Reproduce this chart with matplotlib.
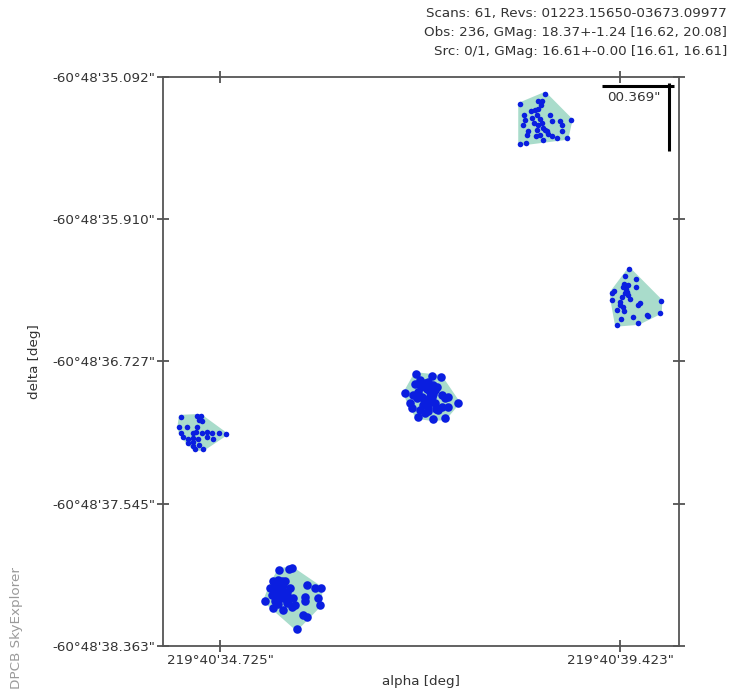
import numpy as np
import matplotlib
matplotlib.use("Agg")
import matplotlib.pyplot as plt
from matplotlib.patches import Polygon
from matplotlib.ticker import FixedLocator, FuncFormatter

# ---------------- data ----------------
# axis ticks: alpha = 219°40'xx.xxx", delta = -60°48'yy.yyy"
alpha_ticks = [34.725, 39.423]
delta_ticks = [35.092, 35.910, 36.727, 37.545, 38.363]
alpha_lim = [34.056, 40.116]
delta_lim = [35.092, 38.363]
dec_deg = -60.8136

header = ["Scans: 61, Revs: 01223.15650-03673.09977",
          "Obs: 236, GMag: 18.37+-1.24 [16.62, 20.08]",
          "Src: 0/1, GMag: 16.61+-0.00 [16.61, 16.61]"]
scale_label = '00.369"'

# cluster centres (alpha arcsec, delta arcsec)
centre_alpha = [38.519, 39.587, 37.191, 34.490, 35.582]
centre_delta = [35.328, 36.356, 36.920, 37.132, 38.086]
big_marker = [False, False, True, False, True]

# per-observation offsets (mas, east / north)
off_top = [(11, 140), (-132, 80), (-30, 99), (-7, 96), (-13, 73), (-71, 42), (-46, 48),
           (-27, 53), (-109, 19), (-33, 19), (40, 19), (-17, -4), (-103, -10), (50, -19),
           (98, -15), (159, -10), (-52, -29), (-113, -38), (-27, -42), (107, -42), (-2, -57),
           (-36, -67), (-84, -73), (21, -76), (107, -76), (-94, -96), (-17, -96), (30, -92),
           (50, -105), (-40, -105), (79, -115), (136, -115), (-98, -144), (-132, -149),
           (2, -128), (11, -67), (-65, 0), (-7, -29)]
off_right = [(-27, 159), (-52, 122), (11, 102), (-56, 75), (-61, 59), (-33, 69), (-128, 25),
             (-113, 36), (13, 56), (-42, 30), (-52, 21), (-48, 44), (-33, 11), (-125, -17),
             (-71, -2), (-23, -13), (-80, -46), (-61, -56), (34, -33), (25, -46), (153, -23),
             (-99, -75), (-56, -79), (-4, -117), (73, -103), (82, -109), (149, -90),
             (-75, -128), (25, -151), (-99, -161), (-80, -30)]
off_centre = [(-82, 121), (13, 109), (61, 105), (-144, 10), (-86, 63), (-57, 86), (-29, 67),
              (-10, 76), (19, 57), (29, 29), (0, 19), (-19, 33), (-67, 19), (-48, -10),
              (-76, -19), (-96, 0), (10, -10), (0, -38), (29, -48), (-10, -67), (67, 0),
              (86, -19), (105, -10), (162, -44), (-38, -57), (-57, -86), (-29, -105),
              (67, -67), (48, -86), (105, -67), (-71, -128), (19, -140), (86, -134),
              (-115, -48), (-105, -76), (-17, 46), (-34, -29), (17, 6), (-6, -17), (40, 46),
              (-52, 46), (34, -80), (-11, -92)]
off_left = [(-111, 88), (-19, 92), (4, 92), (-4, 69), (10, 65), (-119, 30), (-76, 27),
            (-19, 30), (-111, -7), (-38, -4), (-23, 2), (10, -7), (38, 2), (67, -7),
            (111, -7), (147, -13), (-96, -30), (-67, -42), (-38, -36), (-10, -42), (38, -30),
            (-67, -65), (-38, -56), (-38, -80), (-4, -75), (19, -99), (-29, -99), (76, -42)]
off_bottom = [(-79, 161), (-21, 166), (-7, 170), (-113, 94), (-84, 103), (-65, 94), (-46, 98),
              (-132, 56), (-94, 65), (-75, 56), (-56, 71), (-103, 36), (-65, 27), (-36, 33),
              (-122, 17), (-75, 7), (-56, -2), (-27, 7), (-161, -17), (-103, -21), (-84, -36),
              (-36, -30), (2, -2), (11, -40), (69, 7), (69, -21), (82, 71), (126, 59),
              (159, 56), (145, -2), (155, -40), (-113, -59), (-56, -69), (-7, -50), (59, -98),
              (79, -113), (21, -178), (-46, 11), (-29, -17), (-92, 0), (-63, 46), (-17, 57),
              (-103, 80)]
offsets = [off_top, off_right, off_centre, off_left, off_bottom]

# ---------------- helpers ----------------
def convex_hull(pts):
    pts = sorted(map(tuple, pts))
    def cross(o, a, b):
        return (a[0]-o[0])*(b[1]-o[1]) - (a[1]-o[1])*(b[0]-o[0])
    lower, upper = [], []
    for p in pts:
        while len(lower) >= 2 and cross(lower[-2], lower[-1], p) <= 0:
            lower.pop()
        lower.append(p)
    for p in reversed(pts):
        while len(upper) >= 2 and cross(upper[-2], upper[-1], p) <= 0:
            upper.pop()
        upper.append(p)
    return np.array(lower[:-1] + upper[:-1])

cosd = np.cos(np.radians(dec_deg))

plt.rcParams['font.family'] = ['DejaVu Sans']
fig = plt.figure(figsize=(7.31, 6.93), dpi=100)
ax = fig.add_axes([163/731, 47/693, 516/731, 569/693])

dot_color = '#0a1ee0'
hull_color = '#a9dccb'
for ca, cd, offs, big in zip(centre_alpha, centre_delta, offsets, big_marker):
    o = np.array(offs, dtype=float)
    xs = ca + o[:, 0] / 1000.0 / cosd
    ys = -(cd - o[:, 1] / 1000.0)   # plot -delta_arcsec so north is up
    hull = convex_hull(np.column_stack([xs, ys]))
    ax.add_patch(Polygon(hull, closed=True, facecolor=hull_color,
                         edgecolor=hull_color, linewidth=2.5, joinstyle='round', zorder=1))
    ax.scatter(xs, ys, s=38 if big else 16, color=dot_color, linewidths=0, zorder=2)

ax.set_xlim(alpha_lim)
ax.set_ylim(-delta_lim[1], -delta_lim[0])

ax.xaxis.set_major_locator(FixedLocator(alpha_ticks))
ax.yaxis.set_major_locator(FixedLocator([-d for d in delta_ticks]))
ax.xaxis.set_major_formatter(FuncFormatter(lambda v, p: "219°40'%.3f\"" % v))
ax.yaxis.set_major_formatter(FuncFormatter(lambda v, p: "-60°48'%.3f\"" % (-v)))

txt_color = '#333333'
ax.tick_params(axis='both', which='major', direction='inout', length=9, width=1.2,
               colors='#444444', labelcolor=txt_color, labelsize=9.7,
               top=True, right=True, labeltop=False, labelright=False, pad=1)
for s in ax.spines.values():
    s.set_color('#555555')
    s.set_linewidth(1.3)

ax.set_xlabel('alpha [deg]', fontsize=9.7, color=txt_color, labelpad=6)
ax.set_ylabel('delta [deg]', fontsize=9.7, color=txt_color, labelpad=8)

# header lines
for i, line in enumerate(header):
    fig.text(727/731, 1 - (14 + 18.5*i)/693, line, ha='right', va='center',
             fontsize=9.7, color=txt_color)

fig.text(17/731, 65/693, 'DPCB SkyExplorer', rotation=90, ha='center', va='center',
         fontsize=9.7, color='#9a9a9a')

# scale bar
ax.plot([0.851, 0.990], [0.984, 0.984], transform=ax.transAxes, color='black',
        lw=2.2, solid_capstyle='butt', clip_on=False, zorder=5)
ax.plot([0.981, 0.981], [0.989, 0.870], transform=ax.transAxes, color='black',
        lw=2.2, solid_capstyle='butt', clip_on=False, zorder=5)
ax.text(0.860, 0.976, scale_label, transform=ax.transAxes, ha='left', va='top',
        fontsize=9.7, color=txt_color, zorder=5)

fig.savefig('out.png', dpi=100)
